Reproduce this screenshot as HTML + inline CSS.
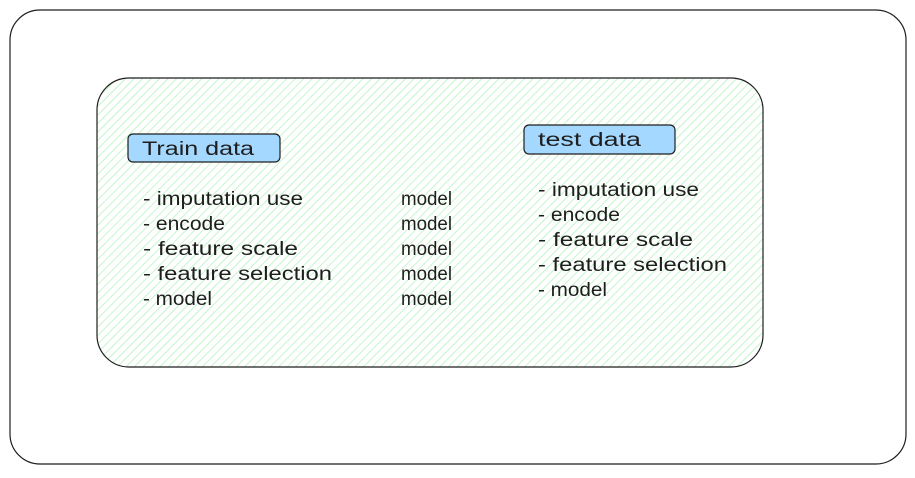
<!DOCTYPE html>
<html><head><style>
body{margin:0;background:#fff;}
svg text{font-family:"Liberation Sans",sans-serif;font-size:19px;fill:#1e1e1e;}
</style></head><body>
<svg width="915" height="473" viewBox="0 0 915 473">
<defs>
<pattern id="h" width="6" height="6" patternUnits="userSpaceOnUse" patternTransform="rotate(45)">
<rect width="6" height="6" fill="#fff"/>
<line x1="0" y1="0" x2="0" y2="6" stroke="#b2f2bb" stroke-width="1.5"/>
</pattern>
</defs>
<rect x="10" y="10" width="896" height="454" rx="30" fill="#fff" stroke="#1e1e1e" stroke-width="1.2"/>
<rect x="97" y="78" width="666" height="289" rx="32" fill="url(#h)" stroke="#1e1e1e" stroke-width="1.2"/>
<rect x="128" y="134" width="152" height="28" rx="5" fill="#a5d8ff" stroke="#1e1e1e" stroke-width="1.2"/>
<text x="142" y="155" textLength="112" lengthAdjust="spacingAndGlyphs">Train data</text>
<rect x="524" y="125" width="151" height="29" rx="5" fill="#a5d8ff" stroke="#1e1e1e" stroke-width="1.2"/>
<text x="538" y="146" textLength="103" lengthAdjust="spacingAndGlyphs">test data</text>
<g>
<text x="143" y="205" textLength="160" lengthAdjust="spacingAndGlyphs">- imputation use</text>
<text x="143" y="230" textLength="82" lengthAdjust="spacingAndGlyphs">- encode</text>
<text x="143" y="255" textLength="155" lengthAdjust="spacingAndGlyphs">- feature scale</text>
<text x="143" y="280" textLength="189" lengthAdjust="spacingAndGlyphs">- feature selection</text>
<text x="143" y="305" textLength="69" lengthAdjust="spacingAndGlyphs">- model</text>
<text x="401" y="205" textLength="51" lengthAdjust="spacingAndGlyphs">model</text>
<text x="401" y="230" textLength="51" lengthAdjust="spacingAndGlyphs">model</text>
<text x="401" y="255" textLength="51" lengthAdjust="spacingAndGlyphs">model</text>
<text x="401" y="280" textLength="51" lengthAdjust="spacingAndGlyphs">model</text>
<text x="401" y="305" textLength="51" lengthAdjust="spacingAndGlyphs">model</text>
<text x="538" y="196" textLength="161" lengthAdjust="spacingAndGlyphs">- imputation use</text>
<text x="538" y="221" textLength="82" lengthAdjust="spacingAndGlyphs">- encode</text>
<text x="538" y="246" textLength="155" lengthAdjust="spacingAndGlyphs">- feature scale</text>
<text x="538" y="271" textLength="189" lengthAdjust="spacingAndGlyphs">- feature selection</text>
<text x="538" y="296" textLength="69" lengthAdjust="spacingAndGlyphs">- model</text>
</g>
</svg>
</body></html>
